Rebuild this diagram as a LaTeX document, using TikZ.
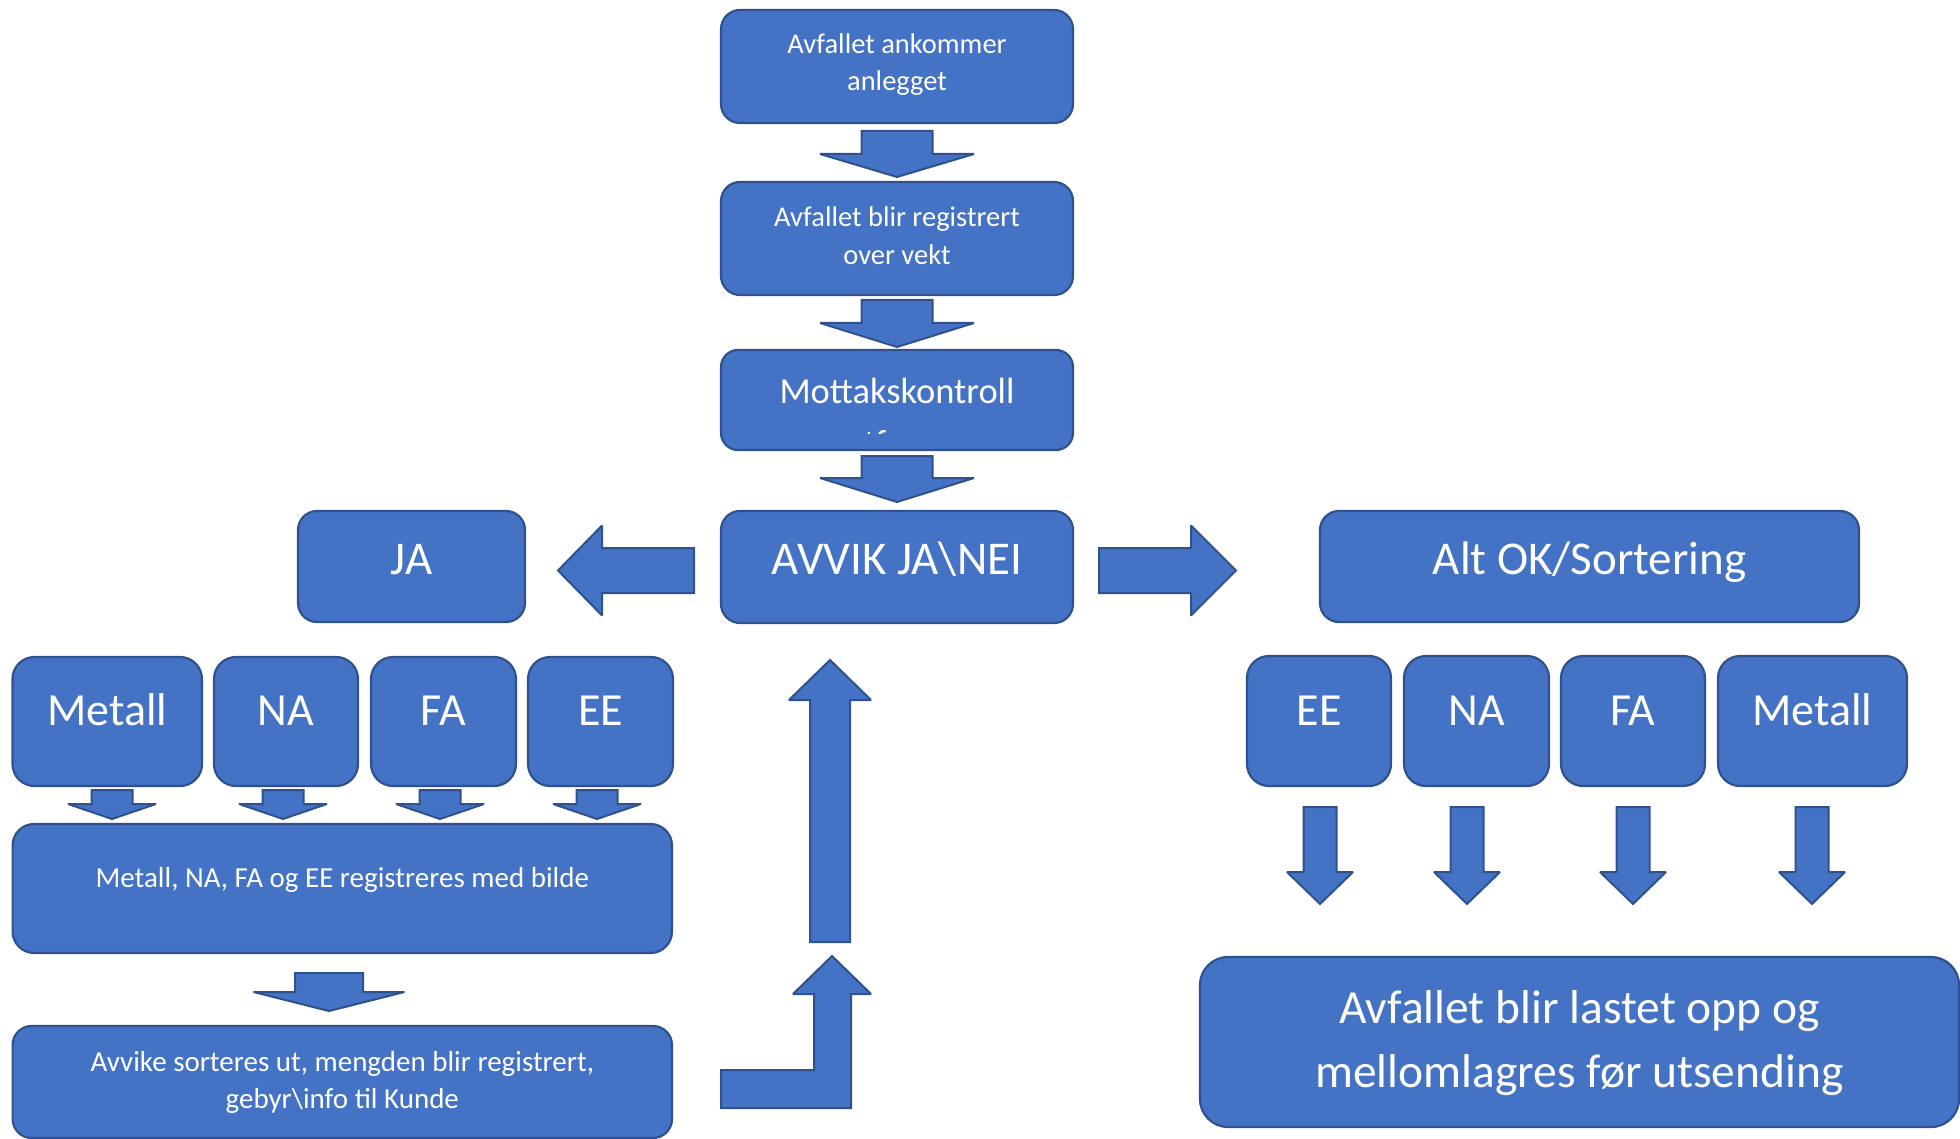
\documentclass[tikz,border=0pt]{standalone}
\usepackage{fontspec}
\setmainfont{Carlito}
\definecolor{boxblue}{HTML}{4472C4}
\definecolor{edgeblue}{HTML}{2F528F}
\newcommand\fsz[1]{\fontsize{#1}{#1}\selectfont}
% block arrow pointing down: #1 x centre, #2 shaft half width, #3 head half width, #4 top, #5 head base, #6 tip
\newcommand\blkdown[6]{\draw[blk] (#1-#2,#4) -- (#1+#2,#4) -- (#1+#2,#5) -- (#1+#3,#5) -- (#1,#6) -- (#1-#3,#5) -- (#1-#2,#5) -- cycle;}
% block arrow pointing up
\newcommand\blkup[6]{\draw[blk] (#1-#2,#4) -- (#1+#2,#4) -- (#1+#2,#5) -- (#1+#3,#5) -- (#1,#6) -- (#1-#3,#5) -- (#1-#2,#5) -- cycle;}
% horizontal block arrow: #1 y centre, #2 shaft half, #3 head half, #4 shaft end, #5 head base, #6 tip
\newcommand\blkside[6]{\draw[blk] (#4,#1-#2) -- (#5,#1-#2) -- (#5,#1-#3) -- (#6,#1) -- (#5,#1+#3) -- (#5,#1+#2) -- (#4,#1+#2) -- cycle;}
\tikzset{
  box/.style={draw=edgeblue, fill=boxblue, line width=2.2pt, inner sep=0pt},
  blk/.style={draw=edgeblue, fill=boxblue, line width=2pt, line join=miter, miter limit=2},
  txt/.style={text=white, inner sep=0pt, anchor=base},
}
\begin{document}
\begin{tikzpicture}[x=1pt,y=-1pt]
\useasboundingbox (0,0) rectangle (1960,1139);

% centre column
\node[box, minimum width=352pt, minimum height=113pt, rounded corners=19pt] (b1) at (897,66.5) {};
\node[txt, font=\fsz{28.5}] (b1a) at (897,53.3) {Avfallet ankommer};
\node[txt, font=\fsz{28.5}] (b1b) at (897,90.7) {anlegget};

\node[box, minimum width=352pt, minimum height=113pt, rounded corners=19pt] (b2) at (897,238.5) {};
\node[txt, font=\fsz{28.5}] (b2a) at (897,226.7) {Avfallet blir registrert};
\node[txt, font=\fsz{28.5}] (b2b) at (897,265) {over vekt};

\node[box, minimum width=352pt, minimum height=100pt, rounded corners=17pt] (b3) at (897,400) {};
\node[txt, font=\fsz{36.5}] (b3a) at (897,403) {Mottakskontroll};
\begin{scope}
  \clip (730,355) rectangle (1064,433.5);
  \node[txt, font=\fsz{36.5}] (b3b) at (897,455) {utføres};
\end{scope}

\node[box, minimum width=352pt, minimum height=112pt, rounded corners=19pt] (avvik) at (897,567) {};
\node[txt, font=\fsz{47}] (avvikt) at (897,574) {AVVIK JA\textbackslash NEI};

\blkdown{897}{35.5}{77}{131}{154}{177}
\blkdown{897}{35.5}{77}{300}{323}{347}
\blkdown{897}{35.5}{77}{456}{478}{502}

% JA branch
\node[box, minimum width=227pt, minimum height=111pt, rounded corners=19pt] (ja) at (411.5,566.5) {};
\node[txt, font=\fsz{47}] (jat) at (411.5,574) {JA};
\blkside{570.5}{22.5}{45}{694}{602}{558}

\node[box, minimum width=189.5pt, minimum height=129pt, rounded corners=22pt] (lmet) at (107.25,721.5) {};
\node[box, minimum width=144pt, minimum height=129pt, rounded corners=22pt] (lna) at (286,721.5) {};
\node[box, minimum width=145pt, minimum height=129pt, rounded corners=22pt] (lfa) at (443.5,721.5) {};
\node[box, minimum width=145pt, minimum height=129pt, rounded corners=22pt] (lee) at (600.5,721.5) {};
\node[txt, font=\fsz{46}] (lmett) at (107.25,725) {Metall};
\node[txt, font=\fsz{46}] (lnat) at (286,725) {NA};
\node[txt, font=\fsz{46}] (lfat) at (443.5,725) {FA};
\node[txt, font=\fsz{46}] (leet) at (600.5,725) {EE};

\blkdown{112}{20.5}{44}{790}{804}{819}
\blkdown{283}{20.5}{44}{790}{804}{819}
\blkdown{440}{20.5}{44}{790}{804}{819}
\blkdown{597}{20.5}{44}{790}{804}{819}

\node[box, minimum width=659.4pt, minimum height=129pt, rounded corners=21.5pt] (reg) at (342.3,888.5) {};
\node[txt, font=\fsz{29}] (regt) at (342.3,887) {Metall, NA, FA og EE registreres med bilde};

\blkdown{329}{34}{75.5}{973}{992}{1011}

\node[box, minimum width=659.4pt, minimum height=112pt, rounded corners=19pt] (avv) at (342.3,1082) {};
\node[txt, font=\fsz{29}] (avva) at (342.3,1071.7) {Avvike sorteres ut, mengden blir registrert,};
\node[txt, font=\fsz{29}] (avvb) at (342.3,1108) {gebyr\textbackslash info til Kunde};

% return arrows
\draw[blk] (721,1070) -- (814,1070) -- (814,994) -- (793,994) -- (832,956) -- (871,994) -- (851,994) -- (851,1108) -- (721,1108) -- cycle;
\blkup{830}{20}{41}{942}{700}{660}

% OK branch
\blkside{570.5}{22.5}{45}{1099}{1191}{1236}
\node[box, minimum width=539pt, minimum height=111pt, rounded corners=19pt] (altok) at (1589.5,566.5) {};
\node[txt, font=\fsz{47}] (altokt) at (1589.5,574) {Alt OK/Sortering};

\node[box, minimum width=144pt, minimum height=130pt, rounded corners=22pt] (ree) at (1319,721) {};
\node[box, minimum width=145pt, minimum height=130pt, rounded corners=22pt] (rna) at (1476.5,721) {};
\node[box, minimum width=144pt, minimum height=130pt, rounded corners=22pt] (rfa) at (1633,721) {};
\node[box, minimum width=189pt, minimum height=130pt, rounded corners=22pt] (rmet) at (1812.5,721) {};
\node[txt, font=\fsz{46}] (reet) at (1319,725) {EE};
\node[txt, font=\fsz{46}] (rnat) at (1476.5,725) {NA};
\node[txt, font=\fsz{46}] (rfat) at (1633,725) {FA};
\node[txt, font=\fsz{46}] (rmett) at (1812.5,725) {Metall};

\blkdown{1320}{16.5}{33}{807}{872}{904}
\blkdown{1467}{16.5}{33}{807}{872}{904}
\blkdown{1633}{16.5}{33}{807}{872}{904}
\blkdown{1812}{16.5}{33}{807}{872}{904}

\node[box, minimum width=759pt, minimum height=170pt, rounded corners=28pt] (last) at (1579.5,1042) {};
\node[txt, font=\fsz{47.5}] (lasta) at (1579.5,1023) {Avfallet blir lastet opp og};
\node[txt, font=\fsz{47.5}] (lastb) at (1579.5,1087) {mellomlagres før utsending};
\end{tikzpicture}
\end{document}
